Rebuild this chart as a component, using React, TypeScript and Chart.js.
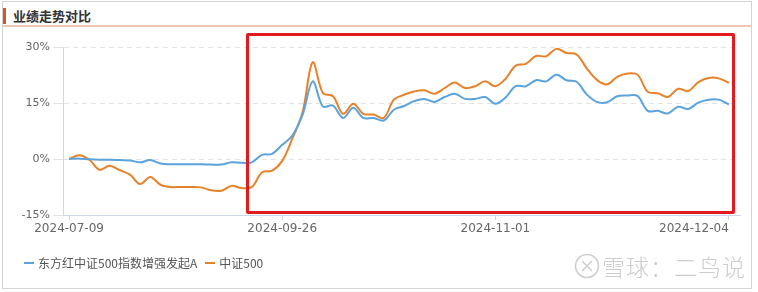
import React, { useEffect, useRef } from "react";
import { Chart, registerables } from "chart.js";

Chart.register(...registerables);

const dates = [
  "2024-07-09", "2024-07-12", "2024-07-17", "2024-07-22", "2024-07-25", "2024-07-30", "2024-08-02",
  "2024-08-07", "2024-08-12", "2024-08-15", "2024-08-20", "2024-08-23", "2024-08-28", "2024-09-02",
  "2024-09-05", "2024-09-10", "2024-09-13", "2024-09-20", "2024-09-23", "2024-09-24", "2024-09-25",
  "2024-09-26", "2024-09-27", "2024-09-30", "2024-10-08", "2024-10-09", "2024-10-10", "2024-10-11",
  "2024-10-14", "2024-10-15", "2024-10-16", "2024-10-17", "2024-10-18", "2024-10-21", "2024-10-22",
  "2024-10-23", "2024-10-24", "2024-10-25", "2024-10-28", "2024-10-29", "2024-10-30", "2024-10-31",
  "2024-11-01", "2024-11-04", "2024-11-05", "2024-11-06", "2024-11-07", "2024-11-08", "2024-11-11",
  "2024-11-12", "2024-11-13", "2024-11-14", "2024-11-15", "2024-11-18", "2024-11-19", "2024-11-20",
  "2024-11-21", "2024-11-22", "2024-11-25", "2024-11-26", "2024-11-27", "2024-11-28", "2024-11-29",
  "2024-12-02", "2024-12-03", "2024-12-04",
];

const fundValues = [
  0, 0.1, -0.1, -0.2, -0.2, -0.3, -0.4, -0.9, -0.3, -1.2, -1.4, -1.4, -1.4, -1.4, -1.5, -1.5, -0.9, -1.0, -0.9,
  1.1, 1.4, 3.8, 6.3, 11.8, 20.8, 14.1, 14.3, 11.0, 13.7, 11.0, 11.0,
  10.3, 13.2, 14.2, 15.5, 16.1, 15.3, 16.6, 17.5, 16.1, 16.1,
  16.6, 14.8, 16.5, 19.5, 19.5, 21.1, 20.8, 22.6, 21.1, 20.7,
  17.3, 15.3, 15.2, 16.8, 17.0, 16.9, 12.9, 12.9, 12.2, 14.0,
  13.4, 15.1, 15.9, 15.9, 14.6,
];

const indexValues = [
  0, 1.0, -0.2, -2.9, -1.8, -3.0, -4.2, -6.7, -4.8, -6.9, -7.5, -7.5, -7.5, -7.6, -8.4, -8.5, -7.2, -7.8, -7.5,
  -3.6, -3.1, -0.5, 5.5, 12.5, 25.9, 17.7, 16.8, 12.1, 14.8, 12.1, 11.9,
  11.0, 15.9, 17.2, 18.1, 18.4, 17.5, 19.0, 20.5, 19.0, 19.5,
  20.8, 19.5, 21.5, 25.0, 25.5, 27.6, 27.5, 29.5, 28.4, 28.0,
  24.3, 21.2, 20.0, 22.0, 22.9, 22.6, 18.0, 17.6, 16.6, 18.8,
  18.2, 20.6, 21.7, 21.6, 20.4,
];

const seriesNames = ["东方红中证500指数增强发起A", "中证500"];
const seriesColors = ["#5ba3dc", "#e8822a"];
const xTickDates = ["2024-07-09", "2024-09-26", "2024-11-01", "2024-12-04"];
const yTickValues = [-15, 0, 15, 30];
const title = "业绩走势对比";
const watermark = "雪球：二鸟说";

function ChartCanvas() {
  const ref = useRef<HTMLCanvasElement | null>(null);
  useEffect(() => {
    if (!ref.current) return;
    const axisColor = "#ccd6eb";
    const xTickIdx = xTickDates.map((d) => dates.indexOf(d));
    const chart = new Chart(ref.current, {
      type: "line",
      data: {
        datasets: [
          {
            label: seriesNames[0],
            data: fundValues.map((v, i) => ({ x: i, y: v })),
            borderColor: seriesColors[0],
            backgroundColor: seriesColors[0],
            borderWidth: 2,
            pointRadius: 0,
            tension: 0.35,
          },
          {
            label: seriesNames[1],
            data: indexValues.map((v, i) => ({ x: i, y: v })),
            borderColor: seriesColors[1],
            backgroundColor: seriesColors[1],
            borderWidth: 2,
            pointRadius: 0,
            tension: 0.35,
          },
        ],
      },
      options: {
        animation: false,
        responsive: false,
        devicePixelRatio: 1,
        layout: { padding: { left: 0, right: 18, top: 47, bottom: 47 } },
        plugins: { legend: { display: false }, tooltip: { enabled: false } },
        scales: {
          x: {
            type: "linear",
            min: -0.6,
            max: 66.1,
            afterBuildTicks: (scale: any) => {
              scale.ticks = [{ value: -0.6 }, ...xTickIdx.map((v) => ({ value: v }))];
            },
            afterFit: (scale: any) => {
              scale.height = 30;
              scale.paddingLeft = 0;
              scale.paddingRight = 0;
            },
            ticks: {
              autoSkip: false,
              maxRotation: 0,
              align: "inner",
              padding: 2,
              color: "#666",
              font: { family: "DejaVu Sans", size: 12 },
              callback: (v: any) => {
                const i = Math.round(Number(v));
                return Number(v) >= 0 && xTickIdx.includes(i) ? dates[i] : "";
              },
            },
            grid: {
              display: true,
              drawOnChartArea: false,
              drawTicks: true,
              tickLength: 5,
              tickColor: (ctx: any) => (ctx.tick && ctx.tick.value < 0 ? "rgba(0,0,0,0)" : axisColor),
            },
            border: { display: true, color: axisColor, width: 1 },
          },
          y: {
            min: -15,
            max: 30,
            afterBuildTicks: (scale: any) => {
              scale.ticks = yTickValues.map((v) => ({ value: v }));
            },
            afterFit: (scale: any) => {
              scale.width = 63;
            },
            ticks: {
              padding: 3,
              color: "#666",
              font: { family: "DejaVu Sans", size: 11 },
              callback: (v: any) => `${v}%`,
            },
            grid: {
              color: "#e2e2e2",
              tickLength: 10,
              tickColor: "#e2e2e2",
            },
            border: { display: true, color: axisColor, width: 1, dash: [5, 4] },
          },
        },
      },
    });
    return () => chart.destroy();
  }, []);
  return (
    <canvas
      ref={ref}
      width={758}
      height={292}
      style={{ position: "absolute", left: 0, top: 0, width: 758, height: 292 }}
    />
  );
}

export default function App() {
  const cjk = '"Noto Sans CJK SC", "Noto Sans", sans-serif';
  return (
    <div
      style={{
        position: "fixed",
        left: 0,
        top: 0,
        width: 758,
        height: 292,
        background: "#fff",
        overflow: "hidden",
        fontFamily: cjk,
      }}
    >
      {/* outer frame */}
      <div
        style={{
          position: "absolute",
          left: 2,
          top: 1,
          width: 748,
          height: 286,
          border: "1px solid #d4d4d4",
        }}
      />
      {/* title accent */}
      <div style={{ position: "absolute", left: 3, top: 8, width: 3, height: 16, background: "#d9531e" }} />
      <div
        style={{
          position: "absolute",
          left: 13,
          top: 6,
          fontSize: 13,
          fontWeight: "bold",
          color: "#333",
          lineHeight: "20px",
        }}
      >
        {title}
      </div>
      <div style={{ position: "absolute", left: 3, top: 25, width: 748, height: 2, background: "#ecc9b0" }} />

      <ChartCanvas />

      {/* highlight box */}
      <div
        style={{
          position: "absolute",
          left: 246,
          top: 33,
          width: 483,
          height: 175,
          border: "3px solid #e11b1d",
          borderRadius: 2,
          pointerEvents: "none",
        }}
      />

      {/* legend */}
      <div
        style={{
          position: "absolute",
          left: 24,
          top: 255,
          display: "flex",
          alignItems: "center",
          fontSize: 12,
          color: "#555",
          lineHeight: "16px",
          whiteSpace: "nowrap",
        }}
      >
        <span style={{ display: "inline-block", width: 10, height: 2, background: seriesColors[0], marginRight: 4 }} />
        <span>{seriesNames[0]}</span>
        <span
          style={{ display: "inline-block", width: 10, height: 2, background: seriesColors[1], marginLeft: 8, marginRight: 4 }}
        />
        <span>{seriesNames[1]}</span>
      </div>

      {/* watermark */}
      <svg style={{ position: "absolute", left: 574, top: 253 }} width={26} height={26} viewBox="0 0 26 26">
        <circle cx={13} cy={13} r={11.5} fill="none" stroke="#cfcfcf" strokeWidth={1.6} />
        <path d="M8 8 Q13 13 18 18 M18 8 Q13 13 8 18" fill="none" stroke="#cfcfcf" strokeWidth={1.6} />
      </svg>
      <div
        style={{
          position: "absolute",
          left: 602,
          top: 250,
          fontSize: 23,
          color: "#cdcdcd",
          lineHeight: "32px",
          letterSpacing: 1,
          whiteSpace: "nowrap",
          fontWeight: 300,
        }}
      >
        {watermark}
      </div>
    </div>
  );
}
